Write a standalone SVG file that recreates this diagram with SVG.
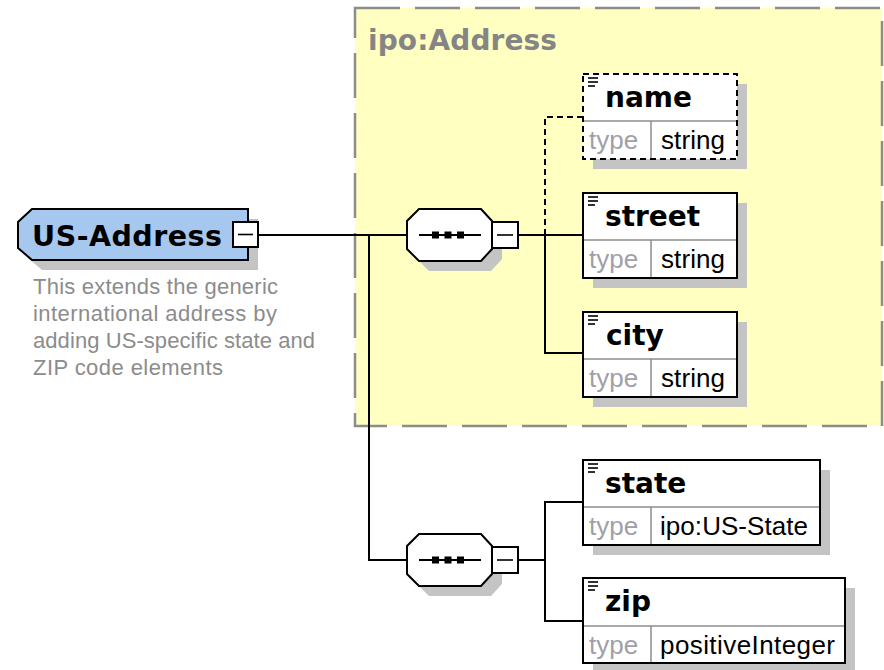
<svg xmlns="http://www.w3.org/2000/svg" width="884" height="670" viewBox="0 0 884 670">
  <defs>
    <style>
      .shadow { fill: #c4c4c4; stroke: none; }
      .conn { fill: none; stroke: #000; stroke-width: 2; }
      .conn-opt { fill: none; stroke: #000; stroke-width: 2; stroke-dasharray: 6 4; }
      .box { fill: #fff; stroke: #000; stroke-width: 2; }
      .box-fill { fill: #fff; stroke: none; }
      .box-opt { fill: none; stroke: #000; stroke-width: 2; stroke-dasharray: 6 4; }
      .sep { stroke: #8c8c8c; stroke-width: 1.5; }
      .ename { font-family: "DejaVu Sans", Verdana, sans-serif; font-weight: bold; font-size: 28px; fill: #000; }
      .tlabel { font-family: "Liberation Sans", Arial, sans-serif; font-size: 26px; fill: #a0a0a8; }
      .tval { font-family: "Liberation Sans", Arial, sans-serif; font-size: 26px; fill: #000; }
      .doc { font-family: "Liberation Sans", Arial, sans-serif; font-size: 22px; fill: #8c8c8c; }
      .icon { stroke: #000; stroke-width: 1.6; }
      .minus { fill: #fff; stroke: #000; stroke-width: 2; }
    </style>
    <!-- "≡" documentation marker placed at the top-left of each element box -->
    <g id="doc-icon">
      <line class="icon" x1="0" y1="0" x2="10" y2="0"/>
      <line class="icon" x1="0" y1="4" x2="10" y2="4"/>
      <line class="icon" x1="0" y1="8" x2="7" y2="8"/>
    </g>
    <!-- sequence compositor (octagon with three dots) in local coordinates -->
    <g id="sequence">
      <polygon class="shadow" points="23,10 85,10 96,22 96,50 85,62 23,62 11,50 11,22"/>
      <polygon fill="#fff" stroke="#000" stroke-width="2" points="13,0 75,0 86,12 86,40 75,52 13,52 1,40 1,12"/>
      <line x1="13" y1="26" x2="75" y2="26" stroke="#000" stroke-width="2"/>
      <rect x="26" y="22.5" width="7" height="7" fill="#000"/>
      <rect x="38.5" y="22.5" width="7" height="7" fill="#000"/>
      <rect x="51" y="22.5" width="7" height="7" fill="#000"/>
      <rect class="minus" x="86" y="13" width="26" height="26"/>
      <line x1="91" y1="26" x2="107" y2="26" stroke="#000" stroke-width="1.6"/>
    </g>
  </defs>

  <rect width="884" height="670" fill="#fff"/>

  <!-- base type area -->
  <g id="ipo-Address">
    <rect x="355" y="8" width="527" height="418" fill="#ffffc2" stroke="#8c8c8c" stroke-width="2.5" stroke-dasharray="45 15"/>
    <text x="368" y="50" font-family="DejaVu Sans, Verdana, sans-serif" font-weight="bold" font-size="28" fill="#858585" textLength="189">ipo:Address</text>
  </g>

  <!-- connectors -->
  <g id="connectors">
    <polyline class="conn" points="258,235 407,235"/>
    <polyline class="conn" points="369,235 369,560 407,560"/>
    <polyline class="conn" points="518,235 545,235"/>
    <polyline class="conn" points="545,235 583,235"/>
    <polyline class="conn" points="545,235 545,353 583,353"/>
    <polyline class="conn-opt" points="545,235 545,117 583,117"/>
    <polyline class="conn" points="518,560 545,560"/>
    <polyline class="conn" points="583,502 545,502 545,621 583,621"/>
  </g>

  <!-- root element -->
  <g id="US-Address">
    <polygon class="shadow" points="42,219 258,219 258,270 42,270 28,258 28,231"/>
    <polygon fill="#a6c8ef" stroke="#000" stroke-width="2" points="32,209 248,209 248,260 32,260 18,248 18,222"/>
    <text x="32" y="246" font-family="DejaVu Sans, Verdana, sans-serif" font-weight="bold" font-size="28.5" fill="#000" textLength="190">US-Address</text>
    <rect class="minus" x="233" y="222" width="25" height="25"/>
    <line x1="238" y1="234.5" x2="253" y2="234.5" stroke="#000" stroke-width="1.6"/>
    <text class="doc" x="33" y="294" textLength="245">This extends the generic</text>
    <text class="doc" x="33" y="321" textLength="244">international address by</text>
    <text class="doc" x="33" y="348" textLength="282">adding US-specific state and</text>
    <text class="doc" x="33" y="375" textLength="190">ZIP code elements</text>
  </g>

  <g id="sequence-1">
    <use href="#sequence" x="406" y="209"/>
  </g>
  <g id="sequence-2">
    <use href="#sequence" x="406" y="534"/>
  </g>

  <g id="name">
    <rect class="shadow" x="593" y="84" width="154" height="85"/>
    <rect class="box-fill" x="583" y="74" width="154" height="85"/>
    <line class="sep" x1="583" y1="121" x2="737" y2="121"/>
    <line class="sep" x1="651" y1="121" x2="651" y2="159"/>
    <rect class="box-opt" x="583" y="74" width="154" height="85"/>
    <use href="#doc-icon" x="588" y="78"/>
    <text class="ename" x="605" y="107">name</text>
    <text class="tlabel" x="589" y="149">type</text>
    <text class="tval" x="661" y="149" textLength="64">string</text>
  </g>

  <g id="street">
    <rect class="shadow" x="593" y="203" width="154" height="85"/>
    <rect class="box" x="583" y="193" width="154" height="85"/>
    <line class="sep" x1="584" y1="240" x2="736" y2="240"/>
    <line class="sep" x1="651" y1="240" x2="651" y2="277"/>
    <use href="#doc-icon" x="588" y="197"/>
    <text class="ename" x="605" y="226">street</text>
    <text class="tlabel" x="589" y="268">type</text>
    <text class="tval" x="661" y="268" textLength="64">string</text>
  </g>

  <g id="city">
    <rect class="shadow" x="593" y="322" width="154" height="85"/>
    <rect class="box" x="583" y="312" width="154" height="85"/>
    <line class="sep" x1="584" y1="359" x2="736" y2="359"/>
    <line class="sep" x1="651" y1="359" x2="651" y2="396"/>
    <use href="#doc-icon" x="588" y="316"/>
    <text class="ename" x="606" y="345">city</text>
    <text class="tlabel" x="589" y="387">type</text>
    <text class="tval" x="661" y="387" textLength="64">string</text>
  </g>

  <g id="state">
    <rect class="shadow" x="593" y="470" width="237" height="85"/>
    <rect class="box" x="583" y="460" width="237" height="85"/>
    <line class="sep" x1="584" y1="507" x2="819" y2="507"/>
    <line class="sep" x1="651" y1="507" x2="651" y2="544"/>
    <use href="#doc-icon" x="588" y="464"/>
    <text class="ename" x="605" y="493">state</text>
    <text class="tlabel" x="589" y="535">type</text>
    <text class="tval" x="660" y="535" textLength="148">ipo:US-State</text>
  </g>

  <g id="zip">
    <rect class="shadow" x="593" y="588" width="262" height="82"/>
    <rect class="box" x="583" y="578" width="262" height="85"/>
    <line class="sep" x1="584" y1="626" x2="844" y2="626"/>
    <line class="sep" x1="651" y1="626" x2="651" y2="662"/>
    <use href="#doc-icon" x="588" y="582"/>
    <text class="ename" x="605" y="611">zip</text>
    <text class="tlabel" x="589" y="654">type</text>
    <text class="tval" x="660" y="654" textLength="175">positiveInteger</text>
  </g>
</svg>
